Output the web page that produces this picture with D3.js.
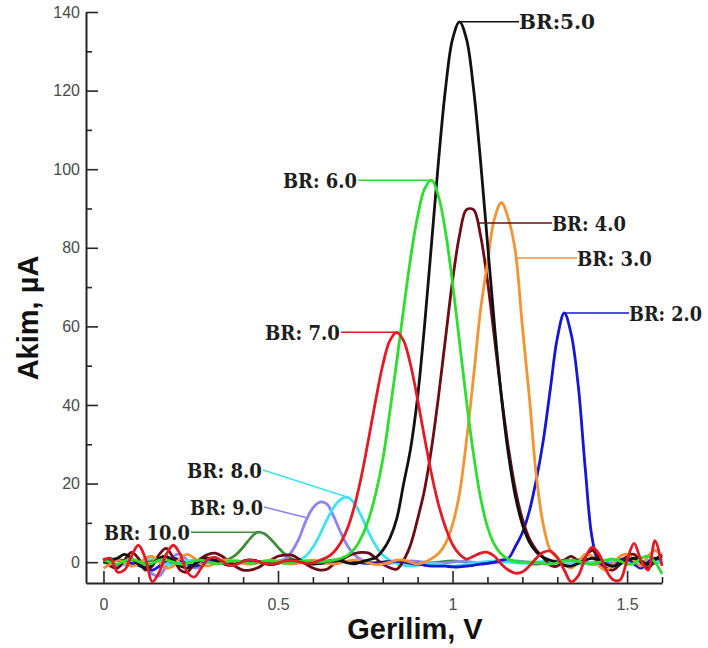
<!DOCTYPE html>
<html>
<head>
<meta charset="utf-8">
<script src="https://cdn.jsdelivr.net/npm/d3@7"></script>
<style>
  html, body { margin: 0; padding: 0; background: #fff; }
  svg { display: block; }
</style>
</head>
<body>
<svg id="chart" width="708" height="648"></svg>
<script>
// Applied potential (V), shared sampling grid for every voltammogram
const voltage = [
  0.00, 0.02, 0.04, 0.06, 0.08, 0.10, 0.12, 0.14, 0.16, 0.18,
  0.20, 0.22, 0.24, 0.26, 0.28, 0.30, 0.32, 0.34, 0.36, 0.38,
  0.40, 0.42, 0.44, 0.46, 0.48, 0.50, 0.52, 0.54, 0.56, 0.58,
  0.60, 0.62, 0.64, 0.66, 0.68, 0.70, 0.72, 0.74, 0.76, 0.78,
  0.80, 0.82, 0.84, 0.86, 0.88, 0.90, 0.92, 0.94, 0.96, 0.98,
  1.00, 1.02, 1.04, 1.06, 1.08, 1.10, 1.12, 1.14, 1.16, 1.18,
  1.20, 1.22, 1.24, 1.26, 1.28, 1.30, 1.32, 1.34, 1.36, 1.38,
  1.40, 1.42, 1.44, 1.46, 1.48, 1.50, 1.52, 1.54, 1.56, 1.58,
  1.60
];

// Current (µA) for each Britton–Robinson buffer pH
const br2 = [
  0, 0.3, 0.5, 0.2, -0.3, -0.8, -1.5, -2.0, -1.0, 0.5,
  1.0, 0.5, -0.5, -1.0, -0.5, 0.3, 0.5, 0.2, -0.2, -0.3,
  0, 0.2, 0.2, 0, -0.2, -0.2, 0, 0.2, 0.2, 0,
  -0.2, -0.3, -0.2, 0, 0.2, 0.2, 0, -0.2, -0.3, -0.2,
  0, 0.2, 0.2, 0, -0.3, -0.5, -0.8, -1.0, -1.0, -1.0,
  -1.2, -1.2, -1.0, -0.8, -0.5, -0.3, 0, 0.5, 1.0, 4.0,
  7.5, 13.0, 21.0, 31.0, 44.0, 57.0, 63.4, 58.0, 45.0, 24.0,
  6.0, -0.5, -1.5, -1.0, 0.5, 1.0, -0.5, -1.5, 0, 1.0,
  0.5
];
const br3 = [
  -1.5, -0.5, 0.5, 0, -1.0, -0.5, 1.0, 1.5, 0, -1.5,
  -1.0, 1.0, 2.0, 1.0, -0.5, -1.0, -0.3, 0.5, 0.5, 0,
  -0.3, -0.5, -0.2, 0.3, 0.5, 0.2, -0.3, -0.5, -0.2, 0.3,
  0.5, 0.2, -0.3, -0.5, -0.2, 0.3, 0.6, 0.4, -0.2, -0.6,
  -0.5, 0, 0.5, 0.5, 0, -0.5, 0, 0.9, 2.2, 4.8,
  9.6, 17.5, 31.0, 47.0, 64.0, 76.1, 87.4, 91.5, 87.4, 79.0,
  60.0, 42.0, 22.0, 9.5, 3.0, 1.0, -0.5, -1.5, 0, 2.0,
  1.5, -1.0, -2.0, -0.5, 1.5, 2.0, 0.5, -1.0, 1.5, 3.0,
  1.0
];
const br4 = [
  1.0, -1.0, -1.5, 0.5, 2.5, 1.0, -2.0, -1.0, 2.0, 3.5,
  1.0, -2.0, -2.5, -0.5, 1.0, 2.0, 2.3, 1.5, 0, -1.2,
  -2.0, -2.0, -1.5, -0.5, 0.5, 1.5, 1.8, 1.8, 0.8, -0.5,
  -1.5, -2.0, -1.8, -0.5, 0.5, 1.5, 2.2, 2.5, 2.3, 1.0,
  -0.5, -1.4, -1.8, 0.5, 4.5, 11.0, 18.5, 29.1, 42.3, 57.1,
  71.6, 83.2, 89.7, 89.7, 83.2, 71.6, 57.1, 42.3, 29.1, 18.5,
  11.0, 6.0, 3.1, 1.2, -0.8, -1.0, 0.5, 1.5, 0.5, 1.5,
  3.0, 1.0, -1.5, -2.0, -0.5, 1.5, 2.0, 0, -1.5, 0.5,
  2.0
];
const br5 = [
  0, 0.5, 1.0, 2.0, 1.0, -0.5, -1.5, -0.5, 1.0, 1.5,
  0.3, -1.0, -1.5, -0.5, 0.5, 1.0, 0.5, -0.3, -0.8, -0.5,
  0.3, 0.6, 0.3, -0.3, -0.6, -0.3, 0.3, 0.5, 0.2, -0.3,
  -0.5, -0.3, 0.2, 0.5, 0.3, -0.2, -0.4, 0.1, 0.6, 1.2,
  3.0, 6.0, 11.0, 20.0, 29.0, 42.1, 60.4, 81.3, 102.3, 120.6,
  133.1, 137.5, 133.1, 120.6, 102.3, 81.3, 60.4, 42.1, 27.5, 16.8,
  9.6, 5.1, 2.6, 1.2, 0.5, 0, -0.8, -1.0, -0.3, 0.5,
  1.0, 0.5, -0.5, -1.0, -0.5, 0.5, 1.0, 0.3, -0.5, 0.8,
  1.5
];
const br6 = [
  0.5, 0, -0.5, 0.3, 0.8, 0.2, -0.6, -0.3, 0.5, 0.6,
  0, -0.5, -0.3, 0.3, 0.5, 0.1, -0.4, -0.3, 0.2, 0.4,
  0.1, -0.3, -0.2, 0.2, 0.3, 0, -0.3, -0.2, 0.2, 0.3,
  0, 0, 0.3, 0.5, 1.0, 1.8, 3.5, 6.5, 11.0, 17.5,
  26.0, 38.0, 51.0, 64.5, 77.5, 88.0, 95.0, 97.2, 93.0, 84.0,
  71.0, 56.0, 41.0, 27.5, 16.5, 9.0, 4.5, 2.0, 0.8, 0.2,
  0, 0, 0, -0.3, -0.5, -0.2, 0.3, 0.5, 0.2, -0.3,
  -0.5, 0, 0.5, 0.8, 0.3, -0.5, -0.3, 1.0, 1.5, 0,
  -3.0
];
const br7 = [
  0.5, 1.0, -2.5, -2.0, 1.5, 4.3, 1.0, -5.0, -2.5, 2.0,
  4.3, 2.0, -2.5, -3.8, -1.5, 0.8, 1.2, 0.3, -0.8, -0.6,
  0.2, 0.5, 0.2, -0.3, -0.5, -0.2, 0.3, 0.4, 0.1, -0.3,
  -0.2, 0.5, 1.2, 2.6, 5.0, 8.8, 14.6, 22.3, 31.6, 41.3,
  50.1, 56.3, 58.5, 56.3, 50.1, 41.3, 31.6, 22.3, 14.6, 8.8,
  4.5, 2.0, 0.8, 1.5, 2.3, 2.5, 1.5, -0.5, -2.0, -2.8,
  -2.5, -1.0, 1.0, 2.5, 2.8, 1.2, -2.0, -5.0, -3.5, 1.0,
  3.8, 2.0, -2.0, -4.5, -4.5, 0.5, 4.8, 0.5, -2.0, 5.5,
  -1.0
];
const br8 = [
  0.5, 1.0, 0.5, -0.5, -1.0, -0.3, 0.5, 1.0, 0.3, -0.5,
  -0.8, -0.3, 0.3, 0.5, 0.2, -0.2, -0.3, 0, 0.2, 0.2,
  0, -0.2, -0.2, 0, 0.2, 0.3, 0.2, 0.2, 0.5, 1.6,
  3.8, 7.0, 10.8, 14.0, 16.0, 16.5, 14.8, 11.5, 7.5, 4.2,
  1.8, 0.5, -0.3, -0.8, -1.0, -0.8, -0.5, -0.3, -0.5, -0.8,
  -1.0, -0.8, -0.5, -0.2, 0, 0.2, 0.3, 0.2, 0, -0.2,
  -0.3, -0.2, 0, 0.2, 0.3, 0.2, 0, -0.3, -0.5, -0.3,
  0, 0.3, 0.5, 0.3, 0, -0.3, -0.5, 0, 0.5, 0.3,
  0
];
const br9 = [
  0, -0.5, -1.0, -0.5, 0.5, 0, -1.0, -3.0, -3.5, -1.0,
  1.5, 2.0, 0.5, -1.5, -1.0, 0, 0.5, 0.3, -0.2, -0.3,
  0, 0.2, 0.2, 0, -0.2, 0.3, 0.8, 2.8, 6.0, 10.5,
  13.8, 15.3, 14.8, 11.5, 7.5, 4.0, 1.8, 0.6, 0.2, -0.3,
  -0.5, -0.3, 0, 0.2, 0.3, 0.2, 0, -0.2, -0.3, -0.2,
  0, 0.2, 0.2, 0, -0.2, -0.3, -0.2, 0, 0.2, 0.3,
  0.2, 0, -0.2, -0.3, -0.2, 0, 0.2, 0.3, 0.2, 0,
  -0.3, -0.5, -0.3, 0, 0.3, 0.5, 0.3, 0, -0.3, -0.2,
  0
];
const br10 = [
  0, 0.5, 0.8, 0.3, -0.3, -0.5, 0, 0.5, 0.5, 0,
  -0.5, -0.5, 0, 0.3, 0.3, 0, 0.1, 0.3, 0.8, 1.9,
  3.8, 6.0, 7.6, 7.3, 5.8, 3.8, 2.0, 0.8, 0.2, -0.2,
  -0.3, -0.2, 0, 0.2, 0.3, 0.2, 0, -0.2, -0.3, -0.2,
  0, 0.2, 0.3, 0.2, 0, -0.2, -0.3, -0.2, 0, 0.2,
  0.3, 0.2, 0, -0.2, -0.3, -0.2, 0, 0.2, 0.3, 0.2,
  0, -0.3, -0.5, -0.3, 0, 0.3, 0.5, 0.3, 0, -0.3,
  -0.5, -0.3, 0, 0.5, 0.8, 0.5, 0, -0.5, -0.8, -0.3,
  0.5
];

// Axis ticks
const yMajorTicks = [0, 20, 40, 60, 80, 100, 120, 140];
const yMinorTicks = [10, 30, 50, 70, 90, 110, 130];
const xMajorTicks = [0, 0.5, 1, 1.5];
const xTickLabels = ["0", "0.5", "1", "1.5"];
const xMinorTicks = [0.1, 0.2, 0.3, 0.4, 0.6, 0.7, 0.8, 0.9, 1.1, 1.2, 1.3, 1.4, 1.6];

// Series in drawing order (back to front)
const series = [
  { label: "BR: 10.0", values: br10, color: "#3f8f3a" },
  { label: "BR: 9.0",  values: br9,  color: "#8c84f2" },
  { label: "BR: 8.0",  values: br8,  color: "#3ee3f2" },
  { label: "BR: 2.0",  values: br2,  color: "#1616d4" },
  { label: "BR: 4.0",  values: br4,  color: "#6c0c16" },
  { label: "BR: 3.0",  values: br3,  color: "#f39333" },
  { label: "BR:5.0",   values: br5,  color: "#111111" },
  { label: "BR: 6.0",  values: br6,  color: "#2ede2e" },
  { label: "BR: 7.0",  values: br7,  color: "#e31b25" }
];

// Callout placement: where the leader meets the curve and where its label sits
const callouts = {
  "BR:5.0":   { attach: "peak",  tx: 519, anchor: "start", w: 76 },
  "BR: 6.0":  { attach: "peak",  tx: 357, anchor: "end",   w: 74 },
  "BR: 7.0":  { attach: "peak",  tx: 340, anchor: "end",   w: 75 },
  "BR: 4.0":  { attach: "right", tx: 552, ty: 223, anchor: "start", w: 74 },
  "BR: 3.0":  { attach: "right", tx: 577, ty: 258, anchor: "start", w: 75 },
  "BR: 2.0":  { attach: "peak",  tx: 629, anchor: "start", w: 73 },
  "BR: 8.0":  { attach: "peak",  tx: 262, ty: 470, anchor: "end", w: 75 },
  "BR: 9.0":  { attach: "left",  tx: 263, ty: 507, hitY: 518, anchor: "end", w: 73 },
  "BR: 10.0": { attach: "peak",  tx: 190, anchor: "end", w: 86 }
};

const svg = d3.select("#chart");

const x = d3.scaleLinear().domain([-0.05, 1.6]).range([86, 662]);
const y = d3.scaleLinear().domain([-5.3, 140]).range([583, 12]);

const axisColor = "#262626";
const tickFont = "'Liberation Sans', Arial, sans-serif";

function styleAxis(g, withDomain) {
  g.selectAll("path.domain").attr("stroke", axisColor).attr("stroke-width", 2)
    .style("display", withDomain ? null : "none");
  g.selectAll(".tick line").attr("stroke", axisColor).attr("stroke-width", 1.6);
  g.selectAll(".tick text")
    .attr("fill", "#4a4a4a")
    .style("font-family", tickFont)
    .style("font-size", "16px");
}

// Y axis: major + minor ticks pointing into the plot
svg.append("g")
  .attr("transform", `translate(${x.range()[0]},0)`)
  .call(d3.axisLeft(y).tickValues(yMinorTicks).tickSize(-6).tickSizeOuter(0).tickFormat(""))
  .call(g => styleAxis(g, false));
svg.append("g")
  .attr("transform", `translate(${x.range()[0]},0)`)
  .call(d3.axisLeft(y).tickValues(yMajorTicks).tickSize(-12).tickSizeOuter(0).tickPadding(6))
  .call(g => styleAxis(g, true));

// X axis
svg.append("g")
  .attr("transform", `translate(0,${y.range()[0]})`)
  .call(d3.axisBottom(x).tickValues(xMinorTicks).tickSize(-6).tickSizeOuter(0).tickFormat(""))
  .call(g => styleAxis(g, false));
svg.append("g")
  .attr("transform", `translate(0,${y.range()[0]})`)
  .call(d3.axisBottom(x).tickValues(xMajorTicks).tickSize(-12).tickSizeOuter(0).tickPadding(16)
    .tickFormat((d, i) => xTickLabels[i]))
  .call(g => styleAxis(g, true));

// Axis titles
svg.append("text")
  .attr("x", 415).attr("y", 639)
  .attr("text-anchor", "middle")
  .style("font-family", tickFont)
  .style("font-weight", "bold")
  .style("font-size", "29px")
  .attr("fill", "#111")
  .text("Gerilim, V");

svg.append("text")
  .attr("transform", "translate(38,318) rotate(-90)")
  .attr("text-anchor", "middle")
  .style("font-family", tickFont)
  .style("font-weight", "bold")
  .style("font-size", "29px")
  .attr("fill", "#111")
  .text("Akim, µA");

// Voltammograms
const line = d3.line()
  .x((d, i) => x(voltage[i]))
  .y(d => y(d))
  .curve(d3.curveCatmullRom.alpha(0.5));

svg.append("g")
  .selectAll("path")
  .data(series)
  .join("path")
  .attr("d", d => line(d.values))
  .attr("fill", "none")
  .attr("stroke", d => d.color)
  .attr("stroke-width", 2.8)
  .attr("stroke-linejoin", "round");

// Find where a curve crosses a given current on one flank of its peak
function flankPoint(vals, level, side) {
  const iMax = d3.maxIndex(vals);
  const step = side === "right" ? 1 : -1;
  for (let i = iMax; i + step >= 0 && i + step < vals.length; i += step) {
    const a = vals[i], b = vals[i + step];
    if (a >= level && b <= level) {
      const t = (a - level) / (a - b);
      const v = voltage[i] + t * (voltage[i + step] - voltage[i]);
      return [x(v), y(level)];
    }
  }
  return [x(voltage[iMax]), y(vals[iMax])];
}

// Callouts: leader line from the curve to a narrow bold serif label
const labelFont = "'DejaVu Serif', 'Liberation Serif', serif";
const gLabels = svg.append("g");
series.forEach(s => {
  const c = callouts[s.label];
  let p, ty;
  if (c.attach === "peak") {
    const iMax = d3.maxIndex(s.values);
    p = [x(voltage[iMax]), y(s.values[iMax])];
    ty = c.ty !== undefined ? c.ty : p[1];
  } else {
    ty = c.ty;
    const level = y.invert(c.hitY !== undefined ? c.hitY : c.ty);
    p = flankPoint(s.values, level, c.attach);
  }
  const endX = c.anchor === "start" ? c.tx : c.tx + 1;
  gLabels.append("line")
    .attr("x1", p[0]).attr("y1", p[1])
    .attr("x2", endX).attr("y2", ty)
    .attr("stroke", s.color)
    .attr("stroke-width", 1.6);
  const t = gLabels.append("text")
    .attr("x", 0).attr("y", 0)
    .attr("text-anchor", "start")
    .style("font-family", labelFont)
    .style("font-weight", "bold")
    .style("font-size", "21px")
    .attr("fill", "#1e1e1e")
    .text(s.label);
  const natural = t.node().getComputedTextLength();
  const sx = c.w / natural;
  const left = c.anchor === "start" ? c.tx : c.tx - c.w;
  t.attr("transform", `translate(${left},${ty + 7.5}) scale(${sx},1)`);
});
</script>
</body>
</html>
